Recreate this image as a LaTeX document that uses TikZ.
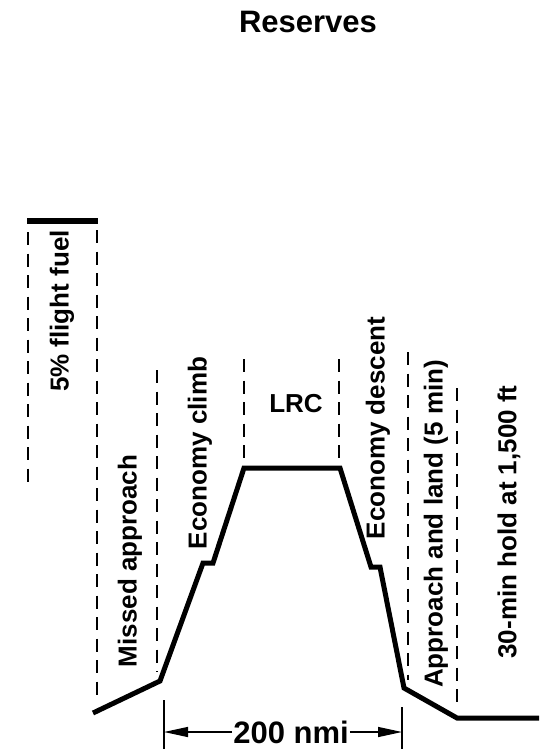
\documentclass[tikz,border=0pt]{standalone}
\usepackage{fontspec}
\setmainfont{Liberation Sans}
\usetikzlibrary{arrows.meta}
\begin{document}
\begin{tikzpicture}[x=1pt,y=-1pt,
  lbl/.style={font=\fontsize{26}{30}\selectfont\bfseries, inner sep=0pt},
  vlbl/.style={lbl, rotate=90},
  big/.style={font=\fontsize{31}{36}\selectfont\bfseries, inner sep=0pt},
  guide/.style={line width=1.3pt, dash pattern=on 13pt off 8.5pt},
  profile/.style={line width=5pt, line join=miter},
  bar/.style={line width=6pt},
  dim/.style={line width=1.2pt},
  dimarrow/.style={line width=1.3pt, -{Triangle[length=24pt,width=10pt]}}
]
\useasboundingbox (0,0) rectangle (539,749);

% title
\node[big] (title) at (308,22) {Reserves};

% flight profile
\coordinate (p0) at (93,713);
\coordinate (p1) at (160,681);
\coordinate (p2) at (203,563);
\coordinate (p3) at (213,563);
\coordinate (p4) at (244,468);
\coordinate (p5) at (340,468);
\coordinate (p6) at (371,567);
\coordinate (p7) at (380,567);
\coordinate (p8) at (404,688);
\coordinate (p9) at (457,718);
\coordinate (p10) at (539,718);
\draw[profile] (p0) -- (p1) -- (p2) -- (p3) -- (p4) -- (p5) -- (p6) -- (p7) -- (p8) -- (p9) -- (p10);

% 5% flight fuel bar
\coordinate (b0) at (27,221);
\coordinate (b1) at (98,221);
\draw[bar] (b0) -- (b1);

% dashed guides
\coordinate (g1a) at (28,232);  \coordinate (g1b) at (28,487);
\coordinate (g2a) at (97,230);  \coordinate (g2b) at (97,696);
\coordinate (g3a) at (157,370); \coordinate (g3b) at (157,672);
\coordinate (g4a) at (244,359); \coordinate (g4b) at (244,463);
\coordinate (g5a) at (339,359); \coordinate (g5b) at (339,463);
\coordinate (g6a) at (408,352); \coordinate (g6b) at (408,680);
\coordinate (g7a) at (457,388); \coordinate (g7b) at (457,707);
\draw[guide] (g1a) -- (g1b);
\draw[guide] (g2a) -- (g2b);
\draw[guide] (g3a) -- (g3b);
\draw[guide] (g4a) -- (g4b);
\draw[guide] (g5a) -- (g5b);
\draw[guide] (g6a) -- (g6b);
\draw[guide] (g7a) -- (g7b);

% labels
\node[vlbl] (l1) at (62,311) {5\% flight fuel};
\node[vlbl] (l2) at (130,561) {Missed approach};
\node[vlbl] (l3) at (200,453) {Economy climb};
\node[lbl]  (l4) at (296,404) {LRC};
\node[vlbl] (l5) at (378,428) {Economy descent};
\node[vlbl] (l6) at (436,524) {Approach and land (5 min)};
\node[vlbl] (l7) at (509,522) {30-min hold at 1,500 ft};

% dimension
\coordinate (d1a) at (164,700); \coordinate (d1b) at (164,749);
\coordinate (d2a) at (402,707); \coordinate (d2b) at (402,749);
\draw[dim] (d1a) -- (d1b);
\draw[dim] (d2a) -- (d2b);
\node[big, inner xsep=1pt] (dimtxt) at (291,732) {200 nmi};
\coordinate (e1) at (164,732);
\coordinate (e2) at (402,732);
\draw[dimarrow] (dimtxt.west |- e1) -- (e1);
\draw[dimarrow] (dimtxt.east |- e2) -- (e2);
\end{tikzpicture}
\end{document}
